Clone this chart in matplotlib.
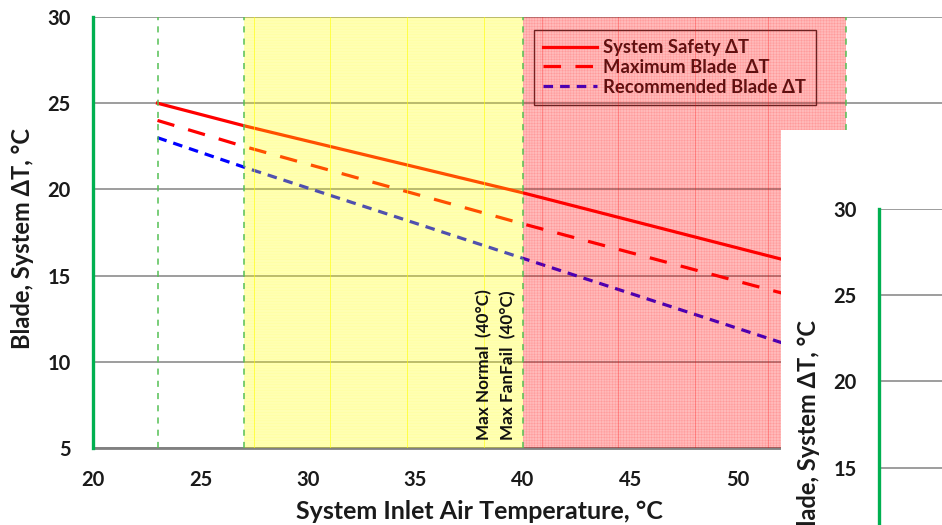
import matplotlib
matplotlib.use('Agg')
import matplotlib.pyplot as plt
from matplotlib.patches import Rectangle

plt.rcParams['font.family'] = ['Lato', 'DejaVu Sans']
plt.rcParams['font.weight'] = 'bold'
plt.rcParams['hatch.linewidth'] = 0.3

# inlet temperature points (deg C) and delta-T curves
temps = [23, 27, 40, 55]
safety_dt = [25.0, 23.7, 19.8, 15.0]
max_blade_dt = [24.0, 22.5, 18.0, 13.0]
recommended_dt = [23.0, 21.3, 16.0, 9.9]

marker_temps = [23, 27, 40, 55]       # green dashed verticals
yellow_zone = (27, 40)
red_zone = (40, 55)
zone_labels = ['Max Normal  (40°C)', 'Max FanFail  (40°C)']
zone_label_x = [38.2, 39.3]
# faint stripes in the shaded zones
yellow_stripes = [27.5, 31.0, 34.6, 38.2]
red_stripes = [40.9, 44.4, 48.0, 51.4]

xticks = list(range(20, 51, 5))
yticks = list(range(5, 31, 5))


def draw_chart(ax):
    ax.set_xlim(20, 60)
    ax.set_ylim(5, 30)
    ax.set_facecolor('white')
    ax.set_xticks(xticks)
    ax.set_yticks(yticks)
    ax.grid(axis='y', color='#8c8c8c', lw=1.2)
    ax.grid(axis='x', visible=False)
    ax.set_axisbelow(True)
    ax.tick_params(length=0, pad=16, labelsize=14.5, labelcolor='#1a1a1a')

    for s in ['top', 'right']:
        ax.spines[s].set_visible(False)
    ax.spines['left'].set_color('#00B050')
    ax.spines['left'].set_linewidth(2.4)
    ax.spines['left'].set_zorder(6)
    ax.spines['bottom'].set_color('#808080')
    ax.spines['bottom'].set_linewidth(2)

    ax.plot(temps, safety_dt, color='#FF0000', lw=2.3, zorder=2,
            label='System Safety \u0394T')
    ax.plot(temps, max_blade_dt, color='#FF0000', lw=2.3, ls=(0, (5.5, 4.5)),
            zorder=2, label='Maximum Blade  \u0394T')
    ax.plot(temps, recommended_dt, color='#0000FF', lw=2.3, ls=(0, (3, 2.2)),
            zorder=2, label='Recommended Blade \u0394T')

    leg = ax.legend(loc='upper left', bbox_to_anchor=(0.513, 0.97),
                    borderaxespad=0, handlelength=2.9, handletextpad=0.35,
                    borderpad=0.5, labelspacing=0.15, fancybox=False,
                    framealpha=1, prop={'weight': 'bold', 'size': 13.3})
    leg.get_frame().set_facecolor('none')
    leg.get_frame().set_edgecolor('#303030')
    leg.get_frame().set_linewidth(1)
    for t in leg.get_texts():
        t.set_color('#1a1a1a')
    leg.set_zorder(2.6)

    # shaded zones drawn over the curves, as in the original
    ax.axvspan(*yellow_zone, color='#FFFF00', alpha=0.3, lw=0, zorder=3)
    ax.axvspan(*yellow_zone, facecolor='none', edgecolor=(1, 1, 0, 0.15),
               hatch='-' * 6, lw=0, zorder=3)
    ax.axvspan(*red_zone, color='#FF0000', alpha=0.27, lw=0, zorder=3)
    ax.axvspan(*red_zone, facecolor='none', edgecolor=(1, 0, 0, 0.2),
               hatch='+' * 6, lw=0, zorder=3)
    for x in yellow_stripes:
        ax.axvline(x, color='#FFFF00', lw=0.7, alpha=0.6, zorder=3.1)
    for x in red_stripes:
        ax.axvline(x, color='#FF0000', lw=0.7, alpha=0.25, zorder=3.1)

    for x in marker_temps:
        ax.axvline(x, color='#55C055', lw=1.1, ls=(0, (4, 4)), zorder=4)

    for x, t in zip(zone_label_x, zone_labels):
        ax.text(x, 5.45, t, rotation=90, ha='center', va='bottom',
                fontsize=12.3, fontweight='bold', color='#111111', zorder=4)

    ax.set_xlabel('System Inlet Air Temperature, \u00b0C', fontsize=18,
                  fontweight='bold', color='#1a1a1a')
    ax.set_ylabel('Blade, System \u0394T, \u00b0C', fontsize=17,
                  fontweight='bold', color='#1a1a1a')
    ax.xaxis.set_label_coords(0.449, -0.12)
    ax.yaxis.set_label_coords(-0.069, 0.487)


W, H = 942, 525
fig = plt.figure(figsize=(W / 100, H / 100), dpi=100)

ax = fig.add_axes([93 / W, 77 / H, 860 / W, 431 / H])
ax.set_zorder(0)
draw_chart(ax)

# pasted-over corner: white block with a shifted copy of the chart
fig.add_artist(Rectangle((781 / W, 0), 161 / W, 395 / H,
                         transform=fig.transFigure, facecolor='white',
                         edgecolor='none', zorder=1))
ax2 = fig.add_axes([879 / W, (H - 640) / H, 860 / W, 431 / H])
ax2.set_zorder(2)
draw_chart(ax2)

fig.savefig('out.png', dpi=100)
